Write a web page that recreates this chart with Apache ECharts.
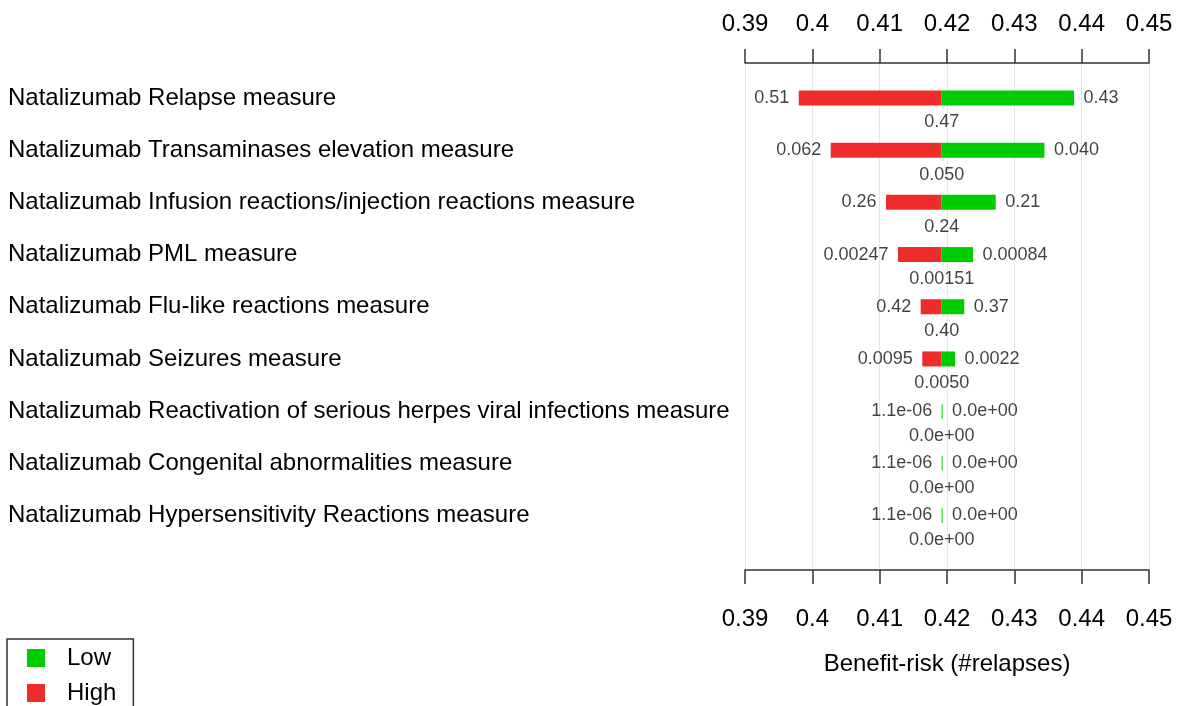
<!DOCTYPE html>
<html>
<head>
<meta charset="utf-8">
<script src="https://cdn.jsdelivr.net/npm/echarts@6/dist/echarts.min.js"></script>
<style>html,body{margin:0;padding:0;background:#fff;}#c{width:1177px;height:706px;}</style>
</head>
<body>
<div id="c"></div>
<script>
const categories = [
  'Natalizumab Relapse measure',
  'Natalizumab Transaminases elevation measure',
  'Natalizumab Infusion reactions/injection reactions measure',
  'Natalizumab PML measure',
  'Natalizumab Flu-like reactions measure',
  'Natalizumab Seizures measure',
  'Natalizumab Reactivation of serious herpes viral infections measure',
  'Natalizumab Congenital abnormalities measure',
  'Natalizumab Hypersensitivity Reactions measure'
];
const baseValue = 0.41921;
const highValues = [0.39798, 0.40273, 0.41094, 0.41272, 0.41609, 0.41633, 0.41921, 0.41921, 0.41921];
const lowValues  = [0.43886, 0.43447, 0.42723, 0.42386, 0.42257, 0.42119, 0.41935, 0.41935, 0.41935];
const highLabels = ['0.51', '0.062', '0.26', '0.00247', '0.42', '0.0095', '1.1e-06', '1.1e-06', '1.1e-06'];
const lowLabels  = ['0.43', '0.040', '0.21', '0.00084', '0.37', '0.0022', '0.0e+00', '0.0e+00', '0.0e+00'];
const baseLabels = ['0.47', '0.050', '0.24', '0.00151', '0.40', '0.0050', '0.0e+00', '0.0e+00', '0.0e+00'];
const xMin = 0.39, xMax = 0.45, xStep = 0.01;
const axisTitle = 'Benefit-risk (#relapses)';

const FONT = "'Liberation Sans', Arial, sans-serif";
const RED = '#EE2C2C', GREEN = '#00CD00';

const chart = echarts.init(document.getElementById('c'), null, {renderer: 'canvas'});

const offsetData = highValues.slice();
const redData = highValues.map((h) => baseValue - h);
const greenData = lowValues.map((l) => l - baseValue);

const option = {
  animation: false,
  backgroundColor: '#fff',
  textStyle: {fontFamily: FONT},
  grid: [
    {left: 745, right: 28, top: 71.9, height: 469.7},
    {left: 745, right: 28, top: 63, bottom: 136}
  ],
  xAxis: [
    {gridIndex: 0, type: 'value', min: xMin, max: xMax, interval: xStep, show: false},
    {gridIndex: 1, type: 'value', position: 'top', min: xMin, max: xMax, interval: xStep,
     axisLine: {show: true, onZero: false, lineStyle: {color: '#333', width: 1.5}},
     axisTick: {show: true, length: 14, lineStyle: {color: '#333', width: 1.5}},
     axisLabel: {margin: 39, verticalAlign: 'middle', fontSize: 24, color: '#000', fontFamily: FONT},
     splitLine: {show: true, lineStyle: {color: '#e6e6e6', width: 1}}},
    {gridIndex: 1, type: 'value', position: 'bottom', min: xMin, max: xMax, interval: xStep,
     axisLine: {show: true, onZero: false, lineStyle: {color: '#333', width: 1.5}},
     axisTick: {show: true, length: 14, lineStyle: {color: '#333', width: 1.5}},
     axisLabel: {margin: 49, verticalAlign: 'middle', fontSize: 24, color: '#000', fontFamily: FONT},
     splitLine: {show: false},
     name: axisTitle, nameLocation: 'middle', nameGap: 94,
     nameTextStyle: {fontSize: 24, color: '#000', fontFamily: FONT, verticalAlign: 'middle'}}
  ],
  yAxis: [
    {gridIndex: 0, type: 'category', data: categories, inverse: true,
     axisLine: {show: false}, axisTick: {show: false}, splitLine: {show: false},
     axisLabel: {align: 'left', margin: 737, fontSize: 24, color: '#000', fontFamily: FONT, padding: [8, 0, 0, 0]}},
    {gridIndex: 1, type: 'value', min: 0, max: 1, show: false}
  ],
  legend: {
    left: 7, top: 639, orient: 'horizontal', width: 90,
    data: ['Low', 'High'],
    icon: 'rect', itemWidth: 18, itemHeight: 18, itemGap: 11,
    borderColor: '#333', borderWidth: 1.5, borderRadius: 0,
    padding: [7, 17, 30, 20],
    textStyle: {fontSize: 24, color: '#000', fontFamily: FONT, lineHeight: 24, padding: [0, 0, 0, 17]}
  },
  series: [
    {type: 'bar', name: 'offset', stack: 'b', xAxisIndex: 0, yAxisIndex: 0, barWidth: 15,
     itemStyle: {color: 'transparent'}, silent: true, data: offsetData},
    {type: 'bar', name: 'High', stack: 'b', xAxisIndex: 0, yAxisIndex: 0, barWidth: 15,
     itemStyle: {color: RED}, data: redData},
    {type: 'bar', name: 'Low', stack: 'b', xAxisIndex: 0, yAxisIndex: 0, barWidth: 15,
     itemStyle: {color: GREEN}, data: greenData},
    {type: 'scatter', name: 'highLbl', xAxisIndex: 0, yAxisIndex: 0, symbolSize: 1,
     itemStyle: {color: 'transparent'}, silent: true, z: 5,
     data: highValues.map((v, i) => [v, categories[i]]),
     label: {show: true, position: 'left', distance: 9, fontSize: 18, color: '#111', fontFamily: FONT,
       formatter: (p) => highLabels[p.dataIndex]}},
    {type: 'scatter', name: 'lowLbl', xAxisIndex: 0, yAxisIndex: 0, symbolSize: 1,
     itemStyle: {color: 'transparent'}, silent: true, z: 5,
     data: lowValues.map((v, i) => [v, categories[i]]),
     label: {show: true, position: 'right', distance: 9, fontSize: 18, color: '#111', fontFamily: FONT,
       formatter: (p) => lowLabels[p.dataIndex]}},
    {type: 'scatter', name: 'baseLbl', xAxisIndex: 0, yAxisIndex: 0, symbolSize: 1,
     itemStyle: {color: 'transparent'}, silent: true, z: 5,
     data: categories.map((c) => [baseValue, c]),
     label: {show: true, position: 'bottom', distance: 15, fontSize: 18, color: '#111', fontFamily: FONT,
       formatter: (p) => baseLabels[p.dataIndex]}}
  ]
};
chart.setOption(option);
</script>
</body>
</html>
